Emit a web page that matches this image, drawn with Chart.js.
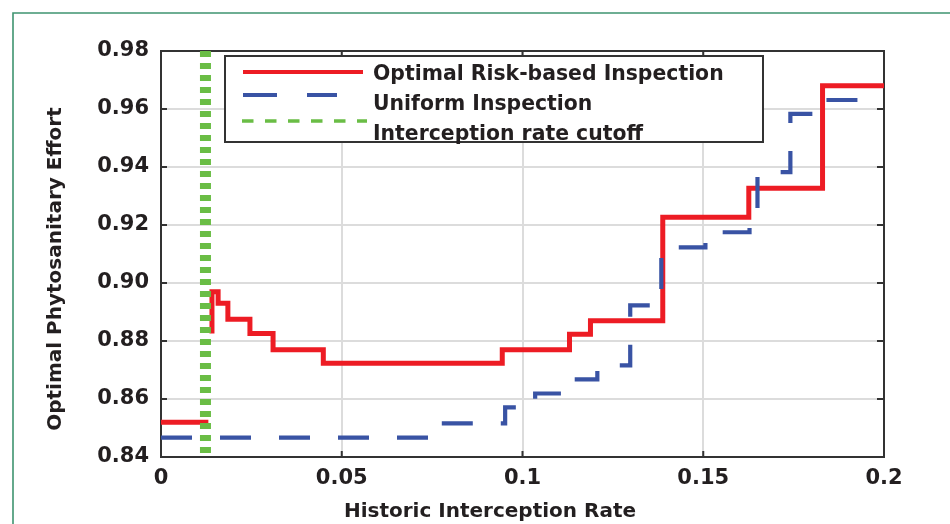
<!DOCTYPE html>
<html>
<head>
<meta charset="utf-8">
<script src="https://cdn.jsdelivr.net/npm/chart.js@4.4.0/dist/chart.umd.min.js"></script>
<style>
html,body{margin:0;padding:0;background:#fff;}
#wrap{width:950px;height:524px;position:relative;}
</style>
</head>
<body>
<div id="wrap"><canvas id="c" width="950" height="524"></canvas></div>
<script>
// ---- data ----
const riskX = [0, 0.0131, 0.0136, 0.0141, 0.0141, 0.0158, 0.0185, 0.0246, 0.0310, 0.0449, 0.0944, 0.1130, 0.1188, 0.1388, 0.1626, 0.1830, 0.2];
const riskY = [0.852, 0.852, null, 0.8826, 0.897, 0.893, 0.8875, 0.8826, 0.877, 0.8723, 0.877, 0.8823, 0.887, 0.9227, 0.9327, 0.968, 0.968];
const uniX = [0, 0.0745, 0.0952, 0.1035, 0.1110, 0.1207, 0.1298, 0.1384, 0.1506, 0.1628, 0.1650, 0.1741, 0.1824, 0.2];
const uniY = [0.8467, 0.8516, 0.8571, 0.8619, 0.8668, 0.8716, 0.8923, 0.9123, 0.9175, 0.9228, 0.9382, 0.9583, 0.9631, 0.9631];
const cutX = [0.0123, 0.0123];
const cutY = [0.98, 0.84];
const seriesLabels = ['Optimal Risk-based Inspection', 'Uniform Inspection', 'Interception rate cutoff'];
const xTicks = [0, 0.05, 0.1, 0.15, 0.2];
const xTickLabels = ['0', '0.05', '0.1', '0.15', '0.2'];
const yTicks = [0.84, 0.86, 0.88, 0.90, 0.92, 0.94, 0.96, 0.98];
const yTickLabels = ['0.84', '0.86', '0.88', '0.90', '0.92', '0.94', '0.96', '0.98'];
const xTitle = 'Historic Interception Rate';
const yTitle = 'Optimal Phytosanitary Effort';

const RED = '#ed1c24', BLUE = '#3953a4', GREEN = '#6abd45', TXT = '#231f20';
const FONT = '"DejaVu Sans", sans-serif';

const zip = (xs, ys) => xs.map((x, i) => ({x: x, y: ys[i]}));

const framePlugin = {
  id: 'frame',
  beforeDraw(chart) {
    const ctx = chart.ctx;
    ctx.save();
    ctx.fillStyle = '#fff';
    ctx.fillRect(0, 0, chart.width, chart.height);
    ctx.strokeStyle = '#3f9470';
    ctx.lineWidth = 1.6;
    ctx.beginPath();
    ctx.moveTo(13, chart.height);
    ctx.lineTo(13, 13);
    ctx.lineTo(chart.width, 13);
    ctx.stroke();
    ctx.restore();
  },
  beforeDatasetsDraw(chart) {
    const ctx = chart.ctx, a = chart.chartArea;
    const xs = chart.scales.x, ys = chart.scales.y;
    ctx.save();
    ctx.strokeStyle = '#333';
    ctx.lineWidth = 2;
    ctx.strokeRect(a.left, a.top, a.right - a.left, a.bottom - a.top);
    ctx.beginPath();
    xTicks.forEach(v => {
      const p = xs.getPixelForValue(v);
      ctx.moveTo(p, a.bottom); ctx.lineTo(p, a.bottom - 6);
      ctx.moveTo(p, a.top); ctx.lineTo(p, a.top + 6);
    });
    yTicks.forEach(v => {
      const p = ys.getPixelForValue(v);
      ctx.moveTo(a.left, p); ctx.lineTo(a.left + 6, p);
      ctx.moveTo(a.right, p); ctx.lineTo(a.right - 7, p);
    });
    ctx.stroke();
    ctx.restore();
  },
  afterDatasetsDraw(chart) {
    const ctx = chart.ctx;
    ctx.save();
    // legend box
    ctx.fillStyle = '#fff';
    ctx.fillRect(225, 56, 538, 86);
    ctx.strokeStyle = '#333';
    ctx.lineWidth = 2;
    ctx.strokeRect(225, 56, 538, 86);
    ctx.lineCap = 'butt';
    // red sample
    ctx.strokeStyle = RED; ctx.lineWidth = 4; ctx.setLineDash([]);
    ctx.beginPath(); ctx.moveTo(243, 72); ctx.lineTo(363, 72); ctx.stroke();
    // blue sample
    ctx.strokeStyle = BLUE; ctx.lineWidth = 4; ctx.setLineDash([34, 30]);
    ctx.beginPath(); ctx.moveTo(243, 95); ctx.lineTo(337, 95); ctx.stroke();
    // green sample
    ctx.strokeStyle = GREEN; ctx.lineWidth = 3.5; ctx.setLineDash([11.5, 11.5]);
    ctx.beginPath(); ctx.moveTo(242, 121); ctx.lineTo(367, 121); ctx.stroke();
    ctx.setLineDash([]);
    ctx.fillStyle = TXT;
    ctx.font = 'bold 20.4px ' + FONT;
    ctx.textAlign = 'left';
    ctx.textBaseline = 'alphabetic';
    ctx.fillText(seriesLabels[0], 373, 80);
    ctx.fillText(seriesLabels[1], 373, 110);
    ctx.fillText(seriesLabels[2], 373, 140);
    // axis titles
    ctx.font = 'bold 20px ' + FONT;
    ctx.textAlign = 'center';
    ctx.textBaseline = 'middle';
    ctx.fillText(xTitle, 490, 512);
    ctx.translate(56, 269);
    ctx.rotate(-Math.PI / 2);
    ctx.fillText(yTitle, 0, 0);
    ctx.restore();
  }
};

new Chart(document.getElementById('c'), {
  type: 'line',
  data: {
    datasets: [
      {label: seriesLabels[0], data: zip(riskX, riskY), borderColor: RED, borderWidth: 5,
       stepped: true, pointRadius: 0, fill: false, spanGaps: false, order: 2, borderCapStyle: 'butt'},
      {label: seriesLabels[1], data: zip(uniX, uniY), borderColor: BLUE, borderWidth: 4.2,
       stepped: true, pointRadius: 0, fill: false, borderDash: [31, 28], order: 1, borderCapStyle: 'butt'},
      {label: seriesLabels[2], data: zip(cutX, cutY), borderColor: GREEN, borderWidth: 11,
       pointRadius: 0, fill: false, borderDash: [6, 6], order: 0, borderCapStyle: 'butt'}
    ]
  },
  options: {
    responsive: false,
    animation: false,
    layout: {padding: {left: 0, top: 51, right: 66, bottom: 0}},
    plugins: {legend: {display: false}, tooltip: {enabled: false}},
    scales: {
      x: {
        type: 'linear', min: 0, max: 0.2,
        afterBuildTicks: s => { s.ticks = xTicks.map(v => ({value: v})); },
        afterFit: s => { s.height = 67; },
        ticks: {callback: (v, i) => xTickLabels[i], color: TXT, padding: 9, maxRotation: 0, autoSkip: false,
                font: {family: FONT, size: 21, weight: 'bold'}},
        grid: {color: '#dcdcdc', lineWidth: 2, drawTicks: false},
        border: {display: false}
      },
      y: {
        type: 'linear', min: 0.84, max: 0.98,
        afterBuildTicks: s => { s.ticks = yTicks.map(v => ({value: v})); },
        afterFit: s => { s.width = 161; },
        ticks: {callback: (v, i) => yTickLabels[i], color: TXT, padding: 12, autoSkip: false,
                font: {family: FONT, size: 21, weight: 'bold'}},
        grid: {color: '#dcdcdc', lineWidth: 2, drawTicks: false},
        border: {display: false}
      }
    }
  },
  plugins: [framePlugin]
});
</script>
</body>
</html>
